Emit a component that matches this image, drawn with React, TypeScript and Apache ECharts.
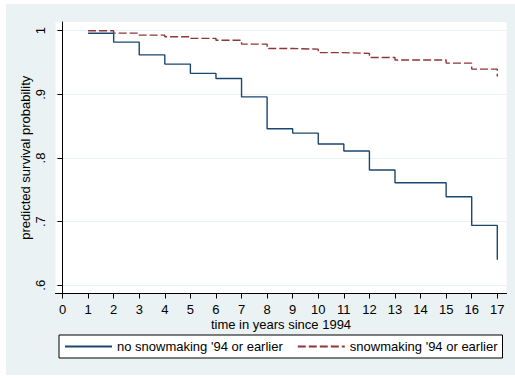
import React, { useEffect, useRef } from 'react';
import * as echarts from 'echarts';

const years = [1, 2, 3, 4, 5, 6, 7, 8, 9, 10, 11, 12, 13, 14, 15, 16, 17];
const noSnowmaking = [0.996, 0.982, 0.962, 0.9475, 0.933, 0.925, 0.896, 0.846, 0.839, 0.822, 0.811, 0.781, 0.761, 0.761, 0.739, 0.694, 0.64];
const snowmaking = [1.0, 0.9962, 0.993, 0.9906, 0.988, 0.985, 0.979, 0.972, 0.971, 0.9655, 0.9644, 0.958, 0.954, 0.954, 0.949, 0.9397, 0.928];
const xTicks = [0, 1, 2, 3, 4, 5, 6, 7, 8, 9, 10, 11, 12, 13, 14, 15, 16, 17];
const yTicks = [0.6, 0.7, 0.8, 0.9, 1];
const seriesNames = ["no snowmaking '94 or earlier", "snowmaking '94 or earlier"];
const xTitle = 'time in years since 1994';
const yTitle = 'predicted survival probability';

const FONT = '"Liberation Sans", Arial, Helvetica, sans-serif';

export default function App() {
  const ref = useRef<HTMLDivElement>(null);
  useEffect(() => {
    if (!ref.current) return;
    const chart = echarts.init(ref.current, undefined, { renderer: 'svg' });
    const fmtY = (v: number) => {
      const r = Math.round(v * 10) / 10;
      return r === 1 ? '1' : String(r).replace(/^0\./, '.');
    };
    chart.setOption({
      animation: false,
      backgroundColor: 'transparent',
      graphic: [
        {
          type: 'rect',
          z: -10,
          silent: true,
          shape: { x: 6, y: 4, width: 509, height: 371 },
          style: { fill: '#eaf2f3' },
        },
      ],
      grid: {
        left: 55.5,
        right: 8.5,
        top: 22,
        bottom: 84.5,
        show: true,
        backgroundColor: '#ffffff',
        borderWidth: 0,
        containLabel: false,
      },
      xAxis: {
        type: 'value',
        min: -0.274,
        max: 17.36,
        name: xTitle,
        nameLocation: 'middle',
        nameGap: 24,
        nameMoveOverlap: false,
        nameTextStyle: { fontFamily: FONT, fontSize: 13, color: '#000' },
        axisLine: { show: true, lineStyle: { color: '#000', width: 1 } },
        axisTick: { show: true, customValues: xTicks, length: 5, lineStyle: { color: '#000' } },
        axisLabel: {
          customValues: xTicks,
          fontFamily: FONT,
          fontSize: 13,
          color: '#000',
          margin: 9,
          formatter: (v: number) => String(Math.round(v)),
        },
        splitLine: { show: false },
      },
      yAxis: {
        type: 'value',
        min: 0.587,
        max: 1.0137,
        name: yTitle,
        nameLocation: 'middle',
        nameGap: 24,
        nameMoveOverlap: false,
        nameRotate: 90,
        nameTextStyle: { fontFamily: FONT, fontSize: 13, color: '#000' },
        axisLine: { show: true, lineStyle: { color: '#000', width: 1 } },
        axisTick: { show: true, customValues: yTicks, length: 5, lineStyle: { color: '#000' } },
        axisLabel: {
          customValues: yTicks,
          rotate: 90,
          fontFamily: FONT,
          fontSize: 13,
          color: '#000',
          margin: 9,
          formatter: fmtY,
        },
        splitLine: { show: true, lineStyle: { color: '#eaf2f3', width: 1 } },
      },
      legend: {
        left: 59,
        top: 335,
        orient: 'horizontal',
        padding: [5, 5, 5, 5],
        itemWidth: 47,
        itemHeight: 14,
        itemGap: 14,
        borderColor: '#000',
        borderWidth: 1,
        borderRadius: 0,
        backgroundColor: '#ffffff',
        itemStyle: { opacity: 0 },
        textStyle: { fontFamily: FONT, fontSize: 13, color: '#000' },
        data: seriesNames,
      },
      series: [
        {
          name: seriesNames[0],
          type: 'line',
          step: 'end',
          symbol: 'none',
          data: years.map((x, i) => [x, noSnowmaking[i]]),
          lineStyle: { color: '#1a476f', width: 1.4 },
          itemStyle: { color: '#1a476f' },
        },
        {
          name: seriesNames[1],
          type: 'line',
          step: 'end',
          symbol: 'none',
          data: years.map((x, i) => [x, snowmaking[i]]),
          lineStyle: { color: '#90353b', width: 1.4, type: [8, 3] },
          itemStyle: { color: '#90353b' },
        },
      ],
    });
    return () => chart.dispose();
  }, []);
  return (
    <div
      ref={ref}
      style={{ position: 'fixed', left: 0, top: 0, width: 515, height: 378, background: '#ffffff' }}
    />
  );
}
